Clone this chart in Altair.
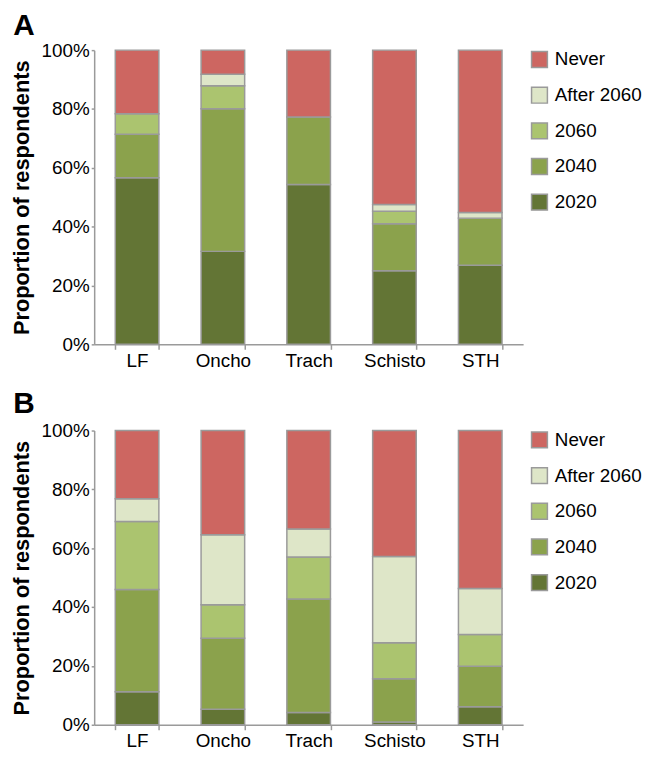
import altair as alt
import pandas as pd

diseases = ["LF", "Oncho", "Trach", "Schisto", "STH"]
categories = ["2020", "2040", "2060", "After 2060", "Never"]
legend_order = ["Never", "After 2060", "2060", "2040", "2020"]
colors = ["#CD6661", "#DEE6C8", "#ABC46F", "#8BA24C", "#637535"]

# Panel A (% of respondents)
a_2020 = [56.6, 31.6, 54.3, 25.0, 26.9]
a_2040 = [14.8, 48.5, 23.0, 16.0, 16.0]
a_2060 = [7.0, 7.8, 0.0, 4.2, 0.0]
a_after = [0.0, 3.9, 0.0, 2.3, 1.9]
a_never = [21.6, 8.2, 22.7, 52.5, 55.2]

# Panel B (% of respondents)
b_2020 = [11.2, 5.3, 4.2, 0.9, 6.1]
b_2040 = [34.8, 24.1, 38.5, 14.7, 13.8]
b_2060 = [23.1, 11.4, 14.3, 12.3, 10.8]
b_after = [7.7, 23.8, 9.5, 29.3, 15.6]
b_never = [23.2, 35.4, 33.5, 42.8, 53.7]

FONT = "Liberation Sans"
GREY = "#9A9A9A"
FS = 19


def make_df(series):
    rows = []
    for rank, (cat, vals) in enumerate(zip(categories, series)):
        for d, v in zip(diseases, vals):
            if v > 0:
                rows.append({"disease": d, "cat": cat, "value": v, "rank": rank})
    return pd.DataFrame(rows)


df_a = make_df([a_2020, a_2040, a_2060, a_after, a_never])
df_b = make_df([b_2020, b_2040, b_2060, b_after, b_never])


def panel(df, letter, offset):
    return (
        alt.Chart(
            df,
            title=alt.TitleParams(
                letter, anchor="start", frame="bounds", fontSize=30,
                fontWeight="bold", font=FONT, color="black", dx=3, offset=offset,
            ),
        )
        .mark_bar(stroke=GREY, strokeWidth=1.5, size=44)
        .encode(
            x=alt.X(
                "disease:N", sort=diseases, title=None,
                scale=alt.Scale(paddingInner=0.49, paddingOuter=0.245),
                axis=alt.Axis(
                    labelAngle=0, tickBand="extent", tickSize=5, labelFontSize=FS,
                    labelPadding=2, labelFont=FONT, labelColor="black",
                    domainColor=GREY, tickColor=GREY, domainWidth=1.5, tickWidth=1.5,
                ),
            ),
            y=alt.Y(
                "value:Q", stack="normalize", title="Proportion of respondents",
                scale=alt.Scale(domain=[0, 1]),
                axis=alt.Axis(
                    values=[0, 0.2, 0.4, 0.6, 0.8, 1.0], format=".0%", grid=False,
                    tickSize=3, labelPadding=2, labelFontSize=FS, labelFont=FONT,
                    labelColor="black", domainColor=GREY, tickColor=GREY,
                    domainWidth=1.5, tickWidth=1.5,
                    titleFont=FONT, titleFontSize=22, titleFontWeight="bold",
                    titleColor="black", titlePadding=8,
                ),
            ),
            color=alt.Color(
                "cat:N",
                scale=alt.Scale(domain=legend_order, range=colors),
                legend=alt.Legend(
                    title=None, symbolType="square", symbolSize=256,
                    symbolStrokeColor=GREY, symbolStrokeWidth=1.5,
                    labelFontSize=FS, labelFont=FONT, labelColor="black",
                    labelOffset=6, rowPadding=13, offset=7, padding=0,
                ),
            ),
            order=alt.Order("rank:Q", sort="ascending"),
        )
        .properties(width=433, height=297)
    )


chart = (
    alt.vconcat(panel(df_a, "A", 0), panel(df_b, "B", 3), spacing=19)
    .resolve_legend(color="independent")
    .properties(padding={"left": 2, "top": 0, "right": 0, "bottom": 0})
    .configure_view(stroke=None)
)

chart.save("out.html", embed_options={"renderer": "svg", "actions": False})
